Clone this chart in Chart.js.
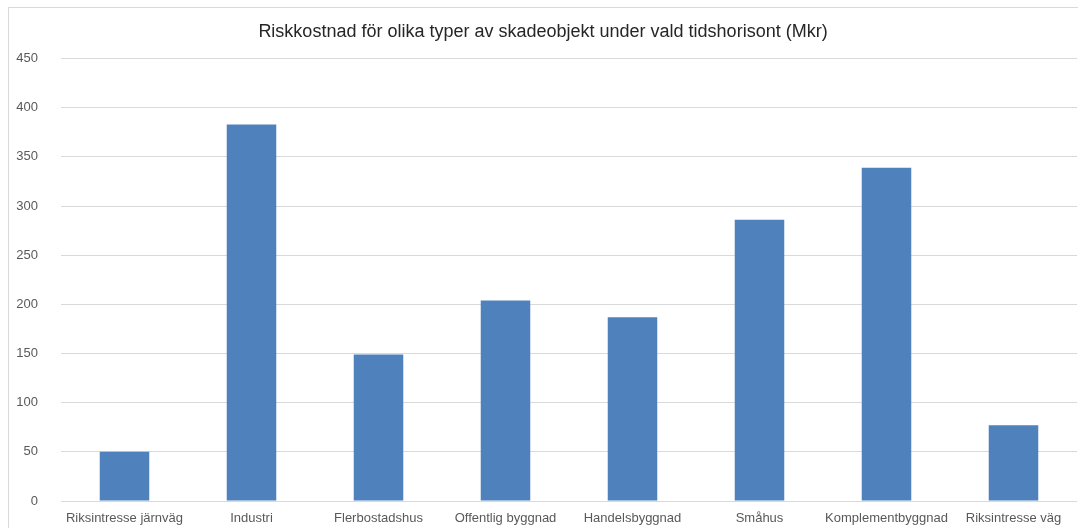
<!DOCTYPE html>
<html>
<head>
<meta charset="utf-8">
<script src="https://cdn.jsdelivr.net/npm/chart.js@4/dist/chart.umd.min.js"></script>
<style>
  html, body { margin: 0; padding: 0; background: #fff; overflow: hidden; }
  #frame {
    position: absolute; left: 8px; top: 7px; width: 1082px; height: 521px;
    border-left: 1px solid #d9d9d9; border-top: 1px solid #d9d9d9;
  }
  #frame canvas { position: absolute; left: 0; top: 0; }
</style>
</head>
<body>
<div id="frame"><canvas id="chart" width="1082" height="521"></canvas></div>
<script>
const categories = [
  "Riksintresse järnväg", "Industri", "Flerbostadshus", "Offentlig byggnad",
  "Handelsbyggnad", "Småhus", "Komplementbyggnad", "Riksintresse väg"
];
const riskCost = [50, 383, 149, 204, 187, 286, 339, 77];
const yMax = 450;
const yStep = 50;

const font = "'Liberation Sans', Arial, sans-serif";

new Chart(document.getElementById("chart").getContext("2d"), {
  type: "bar",
  data: {
    labels: categories,
    datasets: [{
      label: "Riskkostnad",
      data: riskCost,
      backgroundColor: "#4f81bd",
      borderWidth: 0,
      barPercentage: 0.39,
      categoryPercentage: 1
    }]
  },
  options: {
    responsive: false,
    animation: false,
    layout: { padding: { left: 0, right: 14, top: 0, bottom: 0 } },
    plugins: {
      legend: { display: false },
      tooltip: { enabled: false },
      title: {
        display: true,
        text: "Riskkostnad för olika typer av skadeobjekt under vald tidshorisont (Mkr)",
        color: "#262626",
        font: { family: font, size: 18, weight: "normal" },
        padding: { top: 13, bottom: 16 }
      }
    },
    scales: {
      x: {
        grid: { display: false, drawTicks: false },
        border: { display: false },
        ticks: { color: "#595959", font: { family: font, size: 13 }, padding: 10, maxRotation: 0, autoSkip: false },
        afterFit(scale) { scale.height = 28; }
      },
      y: {
        min: 0, max: yMax,
        grid: { color: "#d9d9d9", drawTicks: false },
        border: { display: false },
        ticks: { stepSize: yStep, color: "#595959", font: { family: font, size: 13 }, padding: 23 },
        afterFit(scale) {
          scale.width = 52;
          scale.paddingTop = 0;
          scale.paddingBottom = 0;
        }
      }
    }
  }
});
</script>
</body>
</html>
